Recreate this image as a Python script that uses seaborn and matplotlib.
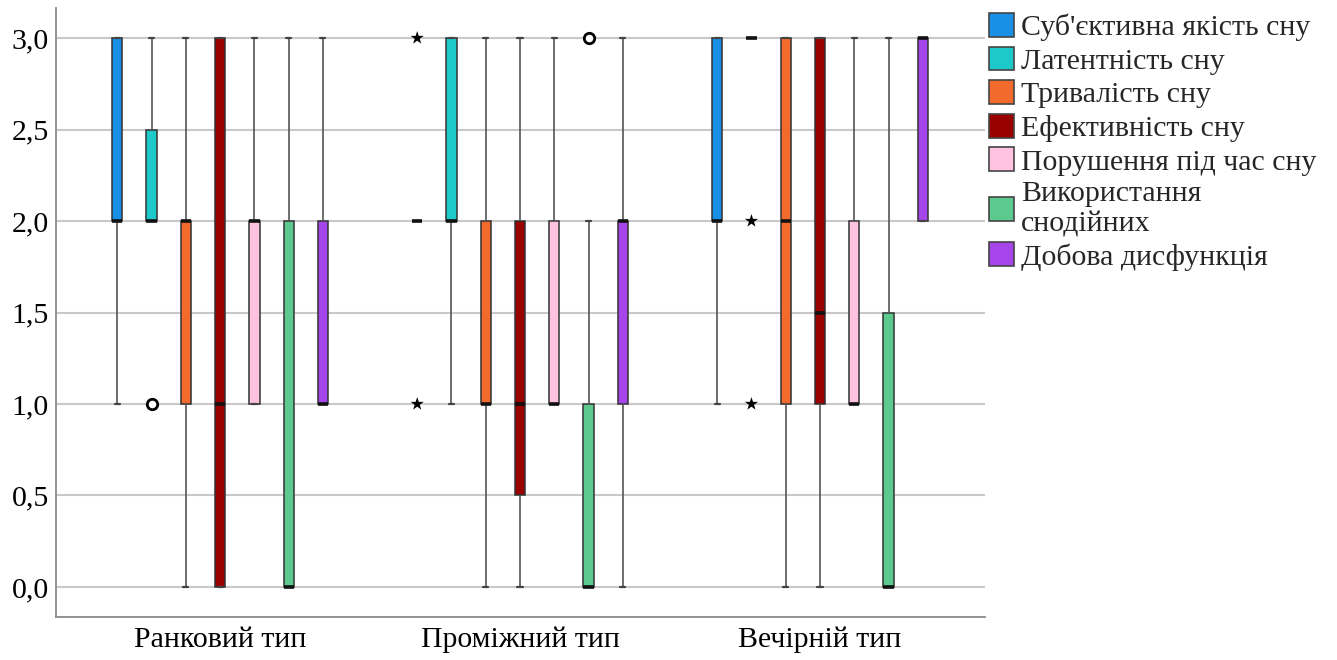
import matplotlib
matplotlib.use("Agg")
import matplotlib.pyplot as plt
import pandas as pd
import seaborn as sns
from matplotlib.patches import Patch

# Chronotype groups on the x axis
chronotypes = ["Ранковий тип", "Проміжний тип", "Вечірній тип"]

# PSQI components (hue)
components = [
    "Суб'єктивна якість сну",
    "Латентність сну",
    "Тривалість сну",
    "Ефективність сну",
    "Порушення під час сну",
    "Використання снодійних",
    "Добова дисфункція",
]
legend_labels = [
    "Суб'єктивна якість сну",
    "Латентність сну",
    "Тривалість сну",
    "Ефективність сну",
    "Порушення під час сну",
    "Використання\nснодійних",
    "Добова дисфункція",
]
colors = ["#1A8FE6", "#1DC9C9", "#F26A2C", "#990000", "#FFC3E1", "#5CC98E", "#A646EA"]

# Five-number summaries per chronotype:
# [lower whisker, Q1, median, Q3, upper whisker]
subjective_quality = [[1, 2, 2, 3, 3], [2, 2, 2, 2, 2], [1, 2, 2, 3, 3]]
sleep_latency = [[2, 2, 2, 2.5, 3], [1, 2, 2, 3, 3], [3, 3, 3, 3, 3]]
sleep_duration = [[0, 1, 2, 2, 3], [0, 1, 1, 2, 3], [0, 1, 2, 3, 3]]
sleep_efficiency = [[0, 0, 1, 3, 3], [0, 0.5, 1, 2, 3], [0, 1, 1.5, 3, 3]]
sleep_disturbance = [[1, 1, 2, 2, 3], [1, 1, 1, 2, 3], [1, 1, 1, 2, 3]]
sleep_medication = [[0, 0, 0, 2, 3], [0, 0, 0, 1, 2], [0, 0, 0, 1.5, 3]]
daytime_dysfunction = [[1, 1, 1, 2, 3], [0, 1, 2, 2, 3], [2, 2, 3, 3, 3]]

# Outliers (circles) and extreme values (stars)
outlier_group = ["Ранковий тип", "Проміжний тип"]
outlier_component = ["Латентність сну", "Використання снодійних"]
outlier_value = [1, 3]

extreme_group = ["Проміжний тип", "Проміжний тип", "Вечірній тип", "Вечірній тип"]
extreme_component = ["Суб'єктивна якість сну", "Суб'єктивна якість сну",
                     "Латентність сну", "Латентність сну"]
extreme_value = [3, 1, 2, 1]

ytick_values = [0, 0.5, 1, 1.5, 2, 2.5, 3]
ytick_labels = ["0,0", "0,5", "1,0", "1,5", "2,0", "2,5", "3,0"]

summaries = [subjective_quality, sleep_latency, sleep_duration, sleep_efficiency,
             sleep_disturbance, sleep_medication, daytime_dysfunction]

rows = []
for comp, summ in zip(components, summaries):
    for grp, five in zip(chronotypes, summ):
        for v in five:
            rows.append({"chronotype": grp, "component": comp, "value": v})
df = pd.DataFrame(rows)

out_df = pd.DataFrame({"chronotype": outlier_group, "component": outlier_component,
                       "value": outlier_value})
ext_df = pd.DataFrame({"chronotype": extreme_group, "component": extreme_component,
                       "value": extreme_value})

sns.set_style("white")
plt.rcParams["font.family"] = ["Liberation Serif", "DejaVu Serif"]

W, H = 1337, 660
FS = 21.5
fig = plt.figure(figsize=(W / 100, H / 100), dpi=100)
ax = fig.add_axes([56 / W, (H - 617) / H, (985 - 56) / W, (617 - 8) / H])

palette = dict(zip(components, colors))

sns.boxplot(
    data=df, x="chronotype", y="value", hue="component",
    order=chronotypes, hue_order=components, palette=palette,
    width=0.8, gap=0.7, whis=1.5, showfliers=False, saturation=1,
    linewidth=1.1, linecolor="#333333", legend=False, ax=ax,
    medianprops={"color": "#111111", "linewidth": 2.6},
    whiskerprops={"color": "#555555", "linewidth": 1.2},
    capprops={"color": "#444444", "linewidth": 1.6},
)

sns.stripplot(
    data=out_df, x="chronotype", y="value", hue="component",
    order=chronotypes, hue_order=components,
    palette={c: "white" for c in components},
    dodge=True, jitter=False, marker="o", size=7.5,
    edgecolor="black", linewidth=2.0, legend=False, ax=ax, zorder=5,
)
sns.stripplot(
    data=ext_df, x="chronotype", y="value", hue="component",
    order=chronotypes, hue_order=components,
    palette={c: "black" for c in components},
    dodge=True, jitter=False, marker="*", size=10,
    linewidth=0, legend=False, ax=ax, zorder=5,
)

ax.set_xlim(-0.547, 2.55)
ax.set_ylim(-0.164, 3.164)
ax.set_yticks(ytick_values)
ax.set_yticklabels(ytick_labels)
ax.set_xlabel("")
ax.set_ylabel("")
ax.tick_params(axis="both", length=0, labelsize=FS, colors="black")
ax.tick_params(axis="y", pad=5)
ax.tick_params(axis="x", pad=7)

ax.set_axisbelow(True)
ax.yaxis.grid(True, color="#C9C9C9", linewidth=1.5)
ax.xaxis.grid(False)
for side in ["top", "right"]:
    ax.spines[side].set_visible(False)
for side in ["left", "bottom"]:
    ax.spines[side].set_color("#8A8A8A")
    ax.spines[side].set_linewidth(1.3)

handles = [Patch(facecolor=c, edgecolor="#444444", linewidth=1.2) for c in colors]
fig.legend(
    handles, legend_labels, loc="upper left",
    bbox_to_anchor=(989 / W, 1 - 13 / H), bbox_transform=fig.transFigure,
    frameon=False, fontsize=FS, handlelength=0.85, handleheight=0.85,
    handletextpad=0.22, labelspacing=0.18, borderpad=0, borderaxespad=0,
)

fig.savefig("out.png", dpi=100)
